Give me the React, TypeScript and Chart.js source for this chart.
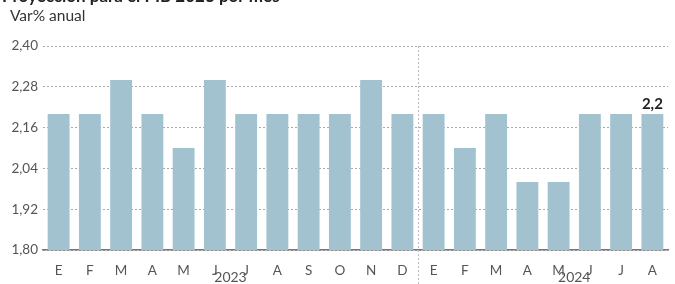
import React, { useEffect, useRef } from "react";
import { Chart, registerables } from "chart.js";

Chart.register(...registerables);

const titleText = "Proyección para el PIB 2023 por mes";
const subtitleText = "Var% anual";
const months = ["E", "F", "M", "A", "M", "J", "J", "A", "S", "O", "N", "D", "E", "F", "M", "A", "M", "J", "J", "A"];
const values = [2.2, 2.2, 2.3, 2.2, 2.1, 2.3, 2.2, 2.2, 2.2, 2.2, 2.3, 2.2, 2.2, 2.1, 2.2, 2.0, 2.0, 2.2, 2.2, 2.2];
const yTicks = [1.8, 1.92, 2.04, 2.16, 2.28, 2.4];
const yearLabels = ["2023", "2024"];
const yearCenters = [5.5, 16.5];
const yearSeparator = 11.5;
const lastValueLabel = "2,2";

const FONT = "Lato, 'Noto Sans', sans-serif";

export default function App() {
  const ref = useRef<HTMLCanvasElement | null>(null);
  useEffect(() => {
    document.body.style.margin = "0";
    const canvas = ref.current!;
    const overlay = {
      id: "overlay",
      beforeDatasetsDraw(chart: any) {
        const { ctx, chartArea } = chart;
        const x = chart.scales.x.getPixelForValue(yearSeparator);
        ctx.save();
        ctx.strokeStyle = "#bbbbbb";
        ctx.lineWidth = 1;
        ctx.setLineDash([2, 2]);
        ctx.beginPath();
        ctx.moveTo(Math.round(x) + 0.5, chartArea.top);
        ctx.lineTo(Math.round(x) + 0.5, 284);
        ctx.stroke();
        ctx.restore();
      },
      afterDraw(chart: any) {
        const { ctx } = chart;
        ctx.save();
        ctx.fillStyle = "#222";
        ctx.font = `bold 17px ${FONT}`;
        ctx.textBaseline = "alphabetic";
        ctx.textAlign = "left";
        ctx.fillText(titleText, 2, 2);
        ctx.fillStyle = "#333";
        ctx.font = `15.5px ${FONT}`;
        ctx.fillText(subtitleText, 10, 21);
        ctx.fillStyle = "#555";
        ctx.font = `14px ${FONT}`;
        ctx.textAlign = "center";
        yearLabels.forEach((lab, i) => {
          const x = chart.scales.x.getPixelForValue(yearCenters[i]);
          ctx.fillText(lab, x, 282);
        });
        const meta = chart.getDatasetMeta(0);
        const last = meta.data[meta.data.length - 1];
        ctx.fillStyle = "#222";
        ctx.font = `bold 15px ${FONT}`;
        ctx.fillText(lastValueLabel, last.x, last.y - 5);
        ctx.restore();
      },
    };
    const chart = new Chart(canvas, {
      type: "bar",
      data: {
        labels: months,
        datasets: [
          {
            data: values,
            backgroundColor: "#a3c2d0",
            borderWidth: 0,
            barPercentage: 0.7,
            categoryPercentage: 1,
          },
        ],
      },
      options: {
        responsive: false,
        animation: false,
        maintainAspectRatio: false,
        layout: { padding: { top: 46, right: 7, left: 0, bottom: 0 } },
        plugins: { legend: { display: false }, tooltip: { enabled: false }, title: { display: false } },
        scales: {
          x: {
            grid: { display: false },
            border: { display: true, color: "#777", width: 1.5 },
            ticks: { font: { family: FONT, size: 13.5 }, color: "#555", padding: 5, maxRotation: 0, autoSkip: false },
            afterFit: (s: any) => {
              s.height = 34;
            },
            z: 2,
          },
          y: {
            min: 1.8,
            max: 2.4,
            afterBuildTicks: (s: any) => {
              s.ticks = yTicks.map((v) => ({ value: v }));
            },
            ticks: {
              font: { family: FONT, size: 13.5 },
              color: "#555",
              padding: 5,
              callback: (v: any) => Number(v).toFixed(2).replace(".", ","),
            },
            grid: { color: "#a8a8a8", drawTicks: false, lineWidth: 1 },
            border: { display: false, dash: [2, 2] },
            afterFit: (s: any) => {
              s.width = 43;
            },
            z: 1,
          },
        },
      },
      plugins: [overlay],
    });
    return () => chart.destroy();
  }, []);
  return <canvas ref={ref} width={675} height={284} style={{ display: "block" }} />;
}
